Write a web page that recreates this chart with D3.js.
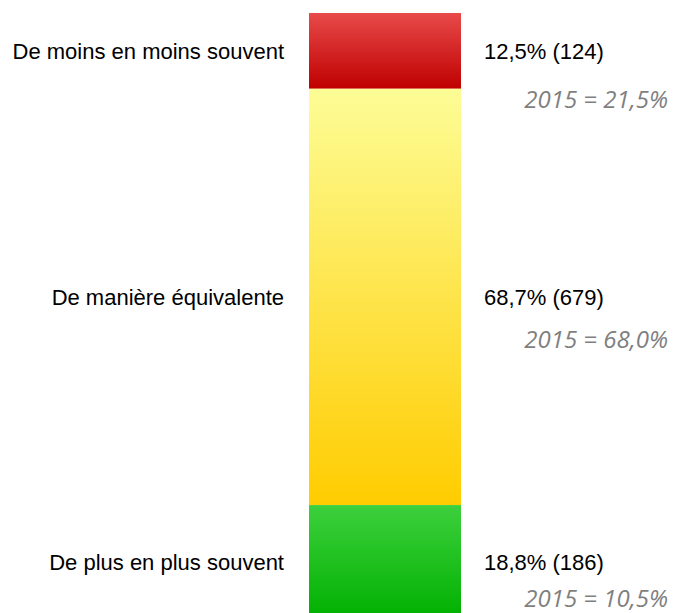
<!DOCTYPE html>
<html>
<head>
<meta charset="utf-8">
<script src="https://cdn.jsdelivr.net/npm/d3@7"></script>
<style>
  body { margin: 0; background: #fff; }
</style>
</head>
<body>
<script>
// answers, top of the bar to bottom
const categories = ['De moins en moins souvent', 'De manière équivalente', 'De plus en plus souvent'];
const percents = [12.5, 68.7, 18.8];
const counts = [124, 679, 186];
const previous = [21.5, 68.0, 10.5]; // 2015 survey
const prevYear = 2015;

const width = 677;
const height = 613;

// gradient stops (top, bottom) per segment
const colors = [
  ['#e84a4a', '#bf0000'],
  ['#fdfd96', '#ffcc00'],
  ['#3dd03d', '#00b000']
];

const fmt = v => d3.format('.1f')(v).replace('.', ',');

const svg = d3.create('svg')
  .attr('width', width)
  .attr('height', height)
  .attr('viewBox', [0, 0, width, height]);

const defs = svg.append('defs');
colors.forEach((c, i) => {
  const g = defs.append('linearGradient')
    .attr('id', 'grad' + i)
    .attr('x1', 0).attr('y1', 0).attr('x2', 0).attr('y2', 1);
  g.append('stop').attr('offset', '0%').attr('stop-color', c[0]);
  g.append('stop').attr('offset', '100%').attr('stop-color', c[1]);
});

const x = d3.scaleBand().domain(['all']).range([309, 461]);
const y = d3.scaleLinear().domain([0, 100]).range([13, 619]);

const ends = Array.from(d3.cumsum(percents));
const rows = categories.map((c, i) => ({
  i, cat: c, pct: percents[i], n: counts[i], prev: previous[i],
  y0: i ? ends[i - 1] : 0, y1: ends[i]
}));

svg.append('g')
  .selectAll('rect')
  .data(rows)
  .join('rect')
  .attr('x', x('all'))
  .attr('width', x.bandwidth())
  .attr('y', d => y(d.y0))
  .attr('height', d => y(d.y1) - y(d.y0))
  .attr('fill', d => `url(#grad${d.i})`);

const mid = d => (y(d.y0) + y(d.y1)) / 2;

// category labels
svg.append('g')
  .selectAll('text')
  .data(rows)
  .join('text')
  .attr('x', 284)
  .attr('y', d => mid(d))
  .attr('dy', '0.35em')
  .attr('text-anchor', 'end')
  .attr('font-family', 'Liberation Sans, Arial, sans-serif')
  .attr('font-size', 22)
  .attr('fill', '#000')
  .text(d => d.cat);

// value labels
svg.append('g')
  .selectAll('text')
  .data(rows)
  .join('text')
  .attr('x', 484)
  .attr('y', d => mid(d))
  .attr('dy', '0.35em')
  .attr('text-anchor', 'start')
  .attr('font-family', 'Liberation Sans, Arial, sans-serif')
  .attr('font-size', 22)
  .attr('fill', '#000')
  .text(d => `${fmt(d.pct)}% (${d.n})`);

// comparison with previous survey
const noteDy = [49, 43, 37];
svg.append('g')
  .selectAll('text')
  .data(rows)
  .join('text')
  .attr('x', 668)
  .attr('y', d => mid(d) + 7.7 + noteDy[d.i])
  .attr('text-anchor', 'end')
  .attr('font-family', 'Open Sans, sans-serif')
  .attr('font-style', 'italic')
  .attr('font-size', 24)
  .attr('fill', '#7f7f7f')
  .text(d => `${prevYear} = ${fmt(d.prev)}%`);

document.body.appendChild(svg.node());
</script>
</body>
</html>
